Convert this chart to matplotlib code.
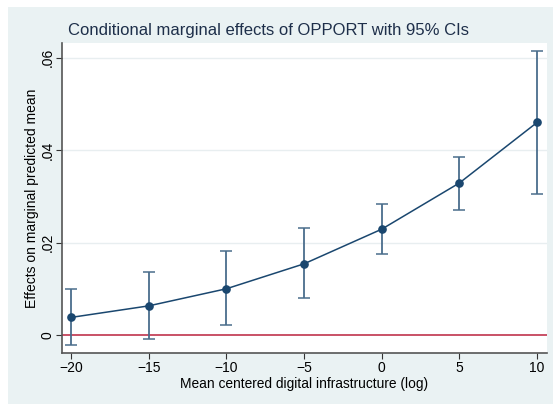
import matplotlib.pyplot as plt
from matplotlib.patches import Rectangle

plt.rcParams['font.family'] = ['Liberation Sans', 'DejaVu Sans']

# values
x_vals = [-20, -15, -10, -5, 0, 5, 10]
effect = [0.0038, 0.0063, 0.0100, 0.0154, 0.0229, 0.0329, 0.0460]
ci_low = [-0.0022, -0.0009, 0.0022, 0.0080, 0.0175, 0.0271, 0.0305]
ci_high = [0.0099, 0.0136, 0.0182, 0.0232, 0.0284, 0.0385, 0.0614]
y_ticks = [0, 0.02, 0.04, 0.06]
y_labels = ['0', '.02', '.04', '.06']

navy = '#1a476f'
bg = '#eaf2f3'

fig = plt.figure(figsize=(5.53, 4.04), dpi=100)
fig.patch.set_facecolor('white')
fig.patches.append(Rectangle((8 / 553, 0), 1, 1 - 7 / 404, transform=fig.transFigure,
                             facecolor=bg, edgecolor='none', zorder=-10))

ax = fig.add_axes([62 / 553, 1 - 353 / 404, (547 - 62) / 553, (353 - 43) / 404])
ax.set_zorder(1)
ax.set_facecolor('white')

for yt in y_ticks[1:]:
    ax.axhline(yt, color='#e8eef0', lw=1, zorder=1)
ax.axhline(0, color='#c0334d', lw=1.2, zorder=2)

yerr = [[e - l for e, l in zip(effect, ci_low)], [h - e for e, h in zip(effect, ci_high)]]
ax.errorbar(x_vals, effect, yerr=yerr, fmt='none', ecolor='#4a6d8c', elinewidth=1.3,
            capsize=4, capthick=1.1, zorder=3)
ax.plot(x_vals, effect, color=navy, lw=1.1, marker='o', ms=5.2, zorder=4)

ax.set_xlim(-20.58, 10.64)
ax.set_ylim(-0.0039, 0.0632)
ax.set_xticks(x_vals)
ax.set_yticks(y_ticks)
ax.set_yticklabels(y_labels, rotation=90, va='center')
ax.tick_params(axis='both', labelsize=10, length=4, color='#333333', pad=1.5)

for s in ['top', 'right']:
    ax.spines[s].set_visible(False)
for s in ['left', 'bottom']:
    ax.spines[s].set_color('#555555')
    ax.spines[s].set_linewidth(1.2)

ax.set_xlabel('Mean centered digital infrastructure (log)', fontsize=9.9, labelpad=1.5)
ax.set_ylabel('Effects on marginal predicted mean', fontsize=10, va='center')
ax.yaxis.set_label_coords(-30 / 485, 0.5)
fig.text(269 / 553, 1 - 31 / 404, 'Conditional marginal effects of OPPORT with 95% CIs',
         ha='center', va='center', fontsize=12, color='#1e2f4a')

fig.savefig('out.png', dpi=100, facecolor=fig.get_facecolor())
